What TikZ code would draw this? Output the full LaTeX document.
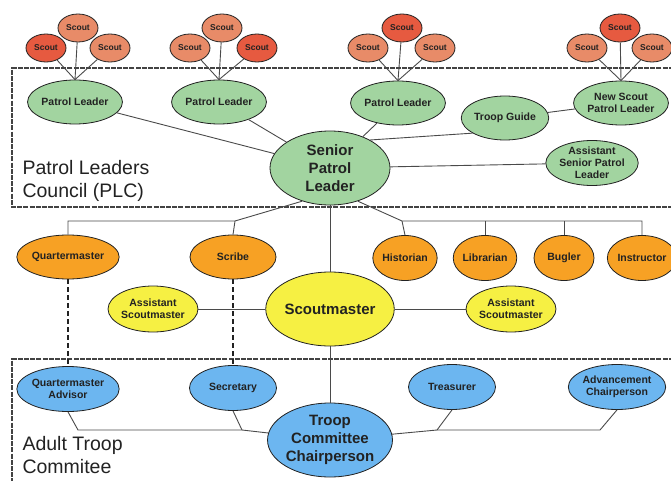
\documentclass[tikz,border=0pt]{standalone}
\usepackage{fontspec}
\setmainfont{Liberation Sans}
\usetikzlibrary{shapes.geometric}
\definecolor{ink}{HTML}{222222}
\definecolor{wire}{HTML}{4A4A4A}
\definecolor{leaf}{HTML}{A2D4A0}
\definecolor{amber}{HTML}{F7A124}
\definecolor{lemon}{HTML}{F6F043}
\definecolor{sky}{HTML}{6CB6F0}
\definecolor{salmon}{HTML}{E88B68}
\definecolor{ember}{HTML}{E65A40}
\tikzset{
  oval/.style={ellipse, draw=ink, line width=0.8pt, inner sep=0pt, align=center,
    text=ink, font=\fontsize{10.5}{12}\selectfont\bfseries},
  scout/.style={oval, fill=salmon, minimum width=40pt, minimum height=28pt,
    font=\fontsize{8.5}{10}\selectfont\bfseries},
  scoutred/.style={scout, fill=ember},
  leader/.style={oval, fill=leaf, minimum width=86pt, minimum height=44pt},
  office/.style={oval, fill=amber, minimum width=86pt, minimum height=44pt},
  officesm/.style={office, minimum width=60pt, minimum height=45pt},
  scouter/.style={oval, fill=lemon, minimum width=87pt, minimum height=46pt},
  committee/.style={oval, fill=sky, minimum width=87pt, minimum height=45pt},
  chief/.style={minimum width=120pt, minimum height=74pt, font=\fontsize{15}{18}\selectfont\bfseries},
  link/.style={draw=wire, line width=0.9pt},
  duty/.style={draw=ink, line width=1.3pt, dash pattern=on 5pt off 3pt},
  boxline/.style={draw=ink!85, line width=1.2pt, dash pattern=on 5pt off 1.2pt},
  grouplabel/.style={text=ink, font=\fontsize{19.5}{23.5}\selectfont, align=left, anchor=west},
}

\begin{document}
\begin{tikzpicture}[x=1pt,y=-1pt]
  \useasboundingbox (0,0) rectangle (671,481);

  % council and committee frames
  \draw[boxline] (680,68) -- (12,68) -- (12,207) -- (680,207);
  \draw[boxline] (680,359) -- (12,359) -- (12,490);
  \node[grouplabel] (plclabel) at (19,181) {Patrol Leaders\\Council (PLC)};
  \node[grouplabel] (atclabel) at (19,455) {Adult Troop\\Commitee};

  % patrols
  \node[scoutred] (s11) at (46,48) {Scout};
  \node[scout]    (s12) at (78,28) {Scout};
  \node[scout]    (s13) at (110,48) {Scout};
  \node[scout]    (s21) at (190,48) {Scout};
  \node[scout]    (s22) at (222,28) {Scout};
  \node[scoutred] (s23) at (257,48) {Scout};
  \node[scout]    (s31) at (368,48) {Scout};
  \node[scoutred] (s32) at (402,28) {Scout};
  \node[scout]    (s33) at (435,48) {Scout};
  \node[scout]    (s41) at (587,48) {Scout};
  \node[scoutred] (s42) at (620,28) {Scout};
  \node[scout]    (s43) at (652,48) {Scout};

  \node[leader] (pl1) at (75,102) {Patrol Leader};
  \node[leader] (pl2) at (219,102) {Patrol Leader};
  \node[leader] (pl3) at (398,103) {Patrol Leader};
  \node[leader, minimum width=84pt] (nspl) at (621,103) {New Scout\\Patrol Leader};
  \node[leader] (tg) at (505,118) {Troop Guide};
  \node[leader, minimum width=87pt, minimum height=45pt] (aspl) at (592,163) {Assistant\\Senior Patrol\\Leader};
  \node[leader, chief] (spl) at (330,168) {Senior\\Patrol\\Leader};

  % offices
  \node[office] (qm) at (68,257) {Quartermaster};
  \node[office] (scribe) at (233,257) {Scribe};
  \node[officesm] (hist) at (405,258) {Historian};
  \node[officesm] (lib) at (485,258) {Librarian};
  \node[officesm] (bug) at (564,258) {Bugler};
  \node[officesm] (instr) at (642,258) {Instructor};

  \node[scouter, chief] (sm) at (330,309) {Scoutmaster};
  \node[scouter] (asml) at (153,309) {Assistant\\Scoutmaster};
  \node[scouter] (asmr) at (511,309) {Assistant\\Scoutmaster};

  % adult committee
  \node[committee] (qma) at (68,389) {Quartermaster\\Advisor};
  \node[committee] (sec) at (233,388) {Secretary};
  \node[committee] (tre) at (452,387) {Treasurer};
  \node[committee] (adv) at (617,387) {Advancement\\Chairperson};
  \node[committee, chief] (tcc) at (330,440) {Troop\\Committee\\Chairperson};

  \coordinate (jl) at (235,221);
  \coordinate (jr) at (402,221);
  \coordinate (jb1) at (78,430);
  \coordinate (jb2) at (242,430);
  \coordinate (jb3) at (437,430);
  \coordinate (jb4) at (600,430);

  \foreach \g/\p in {1/pl1,2/pl2,3/pl3,4/nspl}
    \foreach \k in {1,2,3}
      \draw[link] (s\g\k) -- (\p.north);

  \draw[link] (pl1) -- (spl);
  \draw[link] (pl2) -- (spl);
  \draw[link] (pl3) -- (spl);
  \draw[link] (tg.205) -- (spl.35);
  \draw[link] (tg) -- (nspl);
  \draw[link] (spl) -- (aspl);

  \draw[link] (spl.230) -- (jl) -| (qm.north);
  \draw[link] (jl) -- (scribe.north);
  \draw[link] (spl.-50) -- (jr) -| (instr.north);
  \draw[link] (hist.north) -- (jr);
  \draw[link] (lib.north) -- (lib.north |- jr);
  \draw[link] (bug.north) -- (bug.north |- jr);

  \draw[link] (spl) -- (sm);
  \draw[link] (sm) -- (tcc);
  \draw[link] (sm) -- (asml);
  \draw[link] (sm) -- (asmr);

  \draw[duty] (qm) -- (qma);
  \draw[duty] (scribe) -- (sec);

  \draw[link] (qma.south) -- (jb1) -- (jb2) -- (tcc);
  \draw[link] (sec.south) -- (jb2);
  \draw[link] (tcc) -- (jb3) -- (jb4) -- (adv.south);
  \draw[link] (tre.south) -- (jb3);
\end{tikzpicture}
\end{document}
